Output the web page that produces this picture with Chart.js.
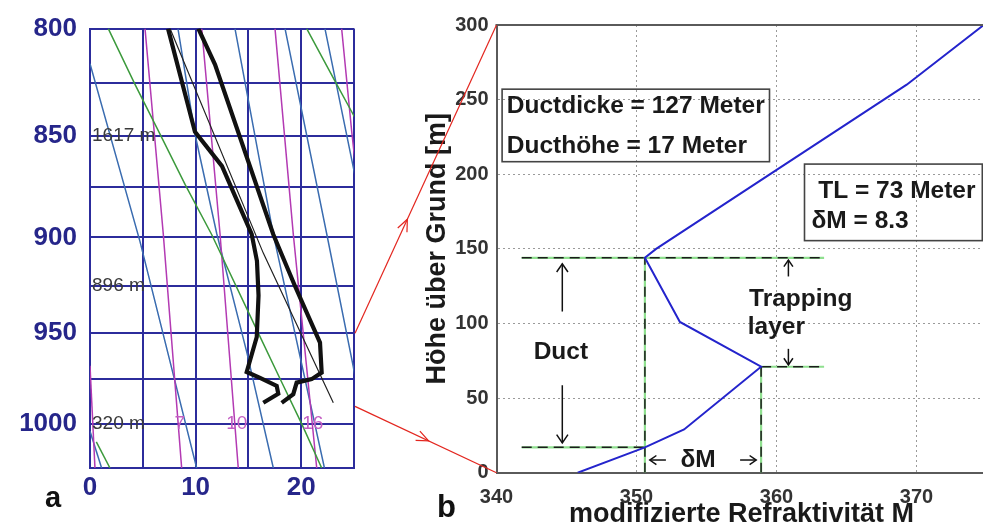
<!DOCTYPE html>
<html>
<head>
<meta charset="utf-8">
<script src="https://cdn.jsdelivr.net/npm/chart.js@4.4.1/dist/chart.umd.min.js"></script>
<style>
  html, body { margin: 0; padding: 0; background: #fff; overflow: hidden; width: 983px; height: 531px; }
  #wrap { position: relative; width: 983px; height: 531px; overflow: hidden; }
  #skew { position: absolute; left: 0; top: 0; }
  #mprof { position: absolute; left: 400px; top: 0; }
  #links { position: absolute; left: 0; top: 0; pointer-events: none; }
  .tag { position: absolute; font-family: "Liberation Sans", Arial, sans-serif; font-weight: bold; color: #111; }
</style>
</head>
<body>
<div id="wrap">
  <canvas id="skew" width="370" height="531"></canvas>
  <canvas id="mprof" width="600" height="531"></canvas>
  <canvas id="links" width="983" height="531"></canvas>
  <div class="tag" style="left:45px; top:483px; font-size:29px; line-height:29px;">a</div>
  <div class="tag" style="left:437px; top:491px; font-size:31px; line-height:31px;">b</div>
</div>
<script>
// ---------- Panel a: sounding diagram, temperature (°C) against pressure (hPa) ----------
const tempTicks = [0, 5, 10, 15, 20, 25];
const tempLabels = [0, 10, 20];
const pressureTicks = [800, 825, 850, 875, 900, 925, 950, 975, 1000, 1025];
const pressureLabels = [800, 850, 900, 950, 1000];

// [temperature, pressure] pairs
const dryAdiabats = [
  [[0, 816], [4.73, 902], [10.1, 1025]],
  [[8.33, 800], [9.94, 849], [12.0, 898], [14.84, 960], [17.36, 1025]],
  [[13.73, 800], [17.36, 898.5], [22.2, 1025]],
  [[18.47, 800], [22.41, 898], [24.93, 968], [25.3, 980]],
  [[22.25, 800], [24.93, 865], [25.3, 874]],
  [[0, 1004], [1.1, 1025]]
];
const moistAdiabats = [
  [[1.73, 800], [4.26, 825.6], [6.63, 849.1], [9.0, 873.5], [11.52, 898.5], [16.2, 953], [17.94, 974], [20.05, 999.8], [21.94, 1025]],
  [[20.52, 800], [23.2, 824.1], [24.91, 839.6], [25.3, 843]],
  [[0.6, 1010], [1.89, 1025]]
];
const mixingRatioLines = [
  [[5.21, 800], [6.94, 898.3], [8.68, 1025]],
  [[10.58, 800], [12.31, 898], [14.04, 1025]],
  [[17.52, 800], [19.25, 898.3], [21.47, 1025]],
  [[23.83, 800], [24.78, 847.7], [25.3, 872]],
  [[0, 967.6], [0.47, 1025]]
];
const mixingRatioLabels = ['7', '10', '16'];
const mixingRatioLabelT = [8.5, 13.9, 21.1];
const heightLabels = ['1617 m', '896 m', '320 m'];
const heightLabelP = [850, 925, 1000];

const dewpointProfile = [
  [7.39, 800], [9.94, 848], [12.5, 864.5], [15.31, 898.3], [15.81, 912], [15.96, 930],
  [15.79, 952], [14.84, 971], [16.1, 974.2], [17.68, 978.6], [17.83, 983], [16.41, 988]
];
const temperatureProfile = [
  [10.26, 800], [11.84, 816.4], [17.36, 898.5], [19.41, 925], [21.78, 955], [21.94, 971.3],
  [20.99, 974.9], [19.57, 976.8], [19.25, 983.2], [18.15, 988]
];
const parcelPath = [[7.58, 800], [16.41, 908], [23.04, 988]];

// ---------- Panel b: modified refractivity profile ----------
const heightTicks = [0, 50, 100, 150, 200, 250, 300];
const refractivityTicks = [340, 350, 360, 370];
const profileM = [345.8, 350.6, 353.4, 358.9, 353.1, 350.6, 351.4, 369.3, 374.8];
const profileH = [0, 17, 29, 71, 101, 144, 150, 260, 300];

const ductHeight = 17;        // Ducthöhe [m]
const ductThickness = 127;    // Ductdicke [m]
const trappingThickness = 73; // TL [m]
const deltaM = 8.3;           // δM
const minM = 350.6;

// dashed guides: [M, height] pairs
const guideLines = [
  [[341.8, 144], [363.4, 144]],
  [[341.8, 17], [350.6, 17]],
  [[358.9, 71], [363.4, 71]],
  [[350.6, 0], [350.6, 144]],
  [[358.9, 0], [358.9, 71]]
];

// connectors between the panels: pressure level on the left, height on the right
const linkPressures = [950, 990];
const linkHeights = [300, 0];

// ---------- helpers ----------
const FONT = '"Liberation Sans", Arial, sans-serif';
const toXY = pts => pts.map(([x, y]) => ({ x, y }));
function lineSet(pts, color, width, extra) {
  return Object.assign({
    data: toXY(pts), borderColor: color, borderWidth: width,
    pointRadius: 0, fill: false, tension: 0
  }, extra || {});
}
function vHead(ctx, x, y, ang, len, spread) {
  ctx.beginPath();
  ctx.moveTo(x + len * Math.cos(ang + Math.PI - spread), y + len * Math.sin(ang + Math.PI - spread));
  ctx.lineTo(x, y);
  ctx.lineTo(x + len * Math.cos(ang + Math.PI + spread), y + len * Math.sin(ang + Math.PI + spread));
  ctx.stroke();
}
function arrow(ctx, x1, y1, x2, y2, len) {
  ctx.beginPath(); ctx.moveTo(x1, y1); ctx.lineTo(x2, y2); ctx.stroke();
  vHead(ctx, x2, y2, Math.atan2(y2 - y1, x2 - x1), len, 0.6);
}

const NAVY = '#2c2c9c';

// ---------- panel a ----------
const skewText = {
  id: 'skewText',
  afterDatasetsDraw(chart) {
    const { ctx, scales: { x, y } } = chart;
    ctx.save();
    ctx.font = '19px ' + FONT;
    ctx.fillStyle = '#3a3a3a';
    ctx.textBaseline = 'middle';
    ctx.textAlign = 'left';
    heightLabels.forEach((t, i) => ctx.fillText(t, x.getPixelForValue(0) + 2, y.getPixelForValue(heightLabelP[i])));
    ctx.fillStyle = '#c35ec3';
    ctx.textAlign = 'center';
    mixingRatioLabels.forEach((t, i) => ctx.fillText(t, x.getPixelForValue(mixingRatioLabelT[i]), y.getPixelForValue(1000)));
    ctx.restore();
  }
};

const skewChart = new Chart(document.getElementById('skew'), {
  type: 'line',
  data: {
    datasets: [
      lineSet(dewpointProfile, '#111', 4.2),
      lineSet(temperatureProfile, '#111', 4.2),
      lineSet(parcelPath, '#222', 1.2),
      ...moistAdiabats.map(p => lineSet(p, '#3c9a3c', 1.5)),
      ...mixingRatioLines.map(p => lineSet(p, '#b33ab3', 1.5)),
      ...dryAdiabats.map(p => lineSet(p, '#3a6cb0', 1.5))
    ]
  },
  options: {
    responsive: false, animation: false, devicePixelRatio: 1, events: [],
    layout: { padding: { left: 0, top: 27, right: 16, bottom: 0 } },
    plugins: { legend: { display: false }, tooltip: { enabled: false } },
    scales: {
      x: {
        type: 'linear', min: 0, max: 25,
        afterBuildTicks: s => { s.ticks = tempTicks.map(v => ({ value: v })); },
        afterFit: s => { s.height = 63; },
        grid: { color: NAVY, lineWidth: 2, drawTicks: false },
        border: { display: true, color: NAVY, width: 2 },
        ticks: {
          padding: 4, color: '#26268a', font: { family: FONT, size: 26, weight: 'bold' },
          maxRotation: 0, autoSkip: false,
          callback: v => tempLabels.includes(v) ? String(v) : ''
        }
      },
      y: {
        type: 'logarithmic', reverse: true, min: 800, max: 1025,
        afterBuildTicks: s => { s.ticks = pressureTicks.map(v => ({ value: v })); },
        afterFit: s => { s.width = 90; },
        grid: { color: NAVY, lineWidth: 2, drawTicks: false },
        border: { display: true, color: NAVY, width: 2 },
        ticks: {
          padding: 13, color: '#26268a', font: { family: FONT, size: 26, weight: 'bold' },
          autoSkip: false,
          callback: v => pressureLabels.includes(v) ? String(v) : ''
        }
      }
    }
  },
  plugins: [skewText]
});

// ---------- panel b ----------
const profileNotes = {
  id: 'profileNotes',
  afterDatasetsDraw(chart) {
    const { ctx, chartArea: a, scales: { x, y } } = chart;
    const X = v => x.getPixelForValue(v), Y = v => y.getPixelForValue(v);
    const ductTop = ductHeight + ductThickness;
    const trapBottom = ductTop - trappingThickness;
    const peakM = minM + deltaM;
    ctx.save();
    // upper frame line
    ctx.strokeStyle = '#5a5a5a'; ctx.lineWidth = 2;
    ctx.beginPath(); ctx.moveTo(a.left - 1, a.top); ctx.lineTo(a.right + 10, a.top); ctx.stroke();

    // text boxes
    ctx.strokeStyle = '#444'; ctx.lineWidth = 1.6;
    ctx.strokeRect(X(340.4), Y(257), X(359.5) - X(340.4), Y(208.4) - Y(257));
    ctx.strokeRect(X(362.0), Y(206.8), X(374.7) - X(362.0), Y(155.5) - Y(206.8));

    ctx.fillStyle = '#1a1a1a';
    ctx.font = 'bold 24.5px ' + FONT;
    ctx.textBaseline = 'middle';
    ctx.textAlign = 'left';
    ctx.fillText('Ductdicke = ' + ductThickness + ' Meter', X(340.73), Y(245.8));
    ctx.fillText('Ducthöhe = ' + ductHeight + ' Meter', X(340.73), Y(219));
    ctx.textAlign = 'center';
    ctx.fillText('TL = ' + trappingThickness + ' Meter', X(368.6), Y(188.8));
    ctx.textAlign = 'left';
    ctx.fillText('δM = ' + deltaM, X(362.5), Y(168.7));

    // duct annotation
    ctx.textAlign = 'center';
    ctx.fillText('Duct', X(344.6), Y(81));
    ctx.textAlign = 'left';
    ctx.fillText('Trapping', X(358.04), Y(116));
    ctx.fillText('layer', X(357.95), Y(97.5));
    ctx.textAlign = 'center';
    ctx.fillText('δM', X(354.4), Y(8.5));

    ctx.strokeStyle = '#111'; ctx.lineWidth = 1.5;
    arrow(ctx, X(344.7), Y(ductTop - 36), X(344.7), Y(ductTop - 4), 10);
    arrow(ctx, X(344.7), Y(58.6), X(344.7), Y(ductHeight + 3), 10);
    arrow(ctx, X(360.85), Y(ductTop - 12.5), X(360.85), Y(ductTop - 1.5), 8);
    arrow(ctx, X(360.85), Y(trapBottom + 12), X(360.85), Y(trapBottom + 1.3), 8);
    arrow(ctx, X(352.1), Y(8.5), X(minM + 0.35), Y(8.5), 8);
    arrow(ctx, X(357.4), Y(8.5), X(peakM - 0.35), Y(8.5), 8);
    ctx.restore();
  }
};

const guideBlack = guideLines.map(p => lineSet(p, '#1c1c1c', 1.5, { borderDash: [10, 6] }));
const guideGreen = guideLines.map(p => lineSet(p, '#8fe08f', 2.2));
const edgeless = (edges) => (c) => (c.tick && edges.includes(c.tick.value)) ? 'rgba(0,0,0,0)' : '#9a9a9a';

const profileChart = new Chart(document.getElementById('mprof'), {
  type: 'line',
  data: {
    datasets: [
      lineSet(profileM.map((m, i) => [m, profileH[i]]), '#2424cc', 2),
      ...guideBlack,
      ...guideGreen
    ]
  },
  options: {
    responsive: false, animation: false, devicePixelRatio: 1, events: [],
    layout: { padding: { left: 0, top: 25, right: 13.5, bottom: 0 } },
    plugins: { legend: { display: false }, tooltip: { enabled: false } },
    scales: {
      x: {
        type: 'linear', min: 340, max: 375,
        afterBuildTicks: s => { s.ticks = refractivityTicks.map(v => ({ value: v })); },
        afterFit: s => { s.height = 58.3; },
        grid: { color: edgeless([340]), lineWidth: 1, drawTicks: false },
        border: { display: true, color: '#5a5a5a', width: 2, dash: [2, 3] },
        ticks: {
          padding: 13, color: '#333', font: { family: FONT, size: 20, weight: 'bold' },
          maxRotation: 0, autoSkip: false
        },
        title: {
          display: true, text: 'modifizierte Refraktivität M', color: '#1a1a1a',
          font: { family: FONT, size: 27, weight: 'bold' }, padding: { top: 0, bottom: 0 }
        }
      },
      y: {
        type: 'linear', min: 0, max: 300,
        afterBuildTicks: s => { s.ticks = heightTicks.map(v => ({ value: v })); },
        afterFit: s => { s.width = 96.5; },
        grid: { color: edgeless([0, 300]), lineWidth: 1, drawTicks: false },
        border: { display: true, color: '#5a5a5a', width: 2, dash: [2, 3] },
        ticks: {
          padding: 8, color: '#333', font: { family: FONT, size: 20, weight: 'bold' },
          autoSkip: false
        },
        title: {
          display: true, text: 'Höhe über Grund [m]', color: '#1a1a1a',
          font: { family: FONT, size: 27, weight: 'bold' }, padding: { top: 21.8, bottom: 0 }
        }
      }
    }
  },
  plugins: [profileNotes]
});

// ---------- connectors from panel a to panel b ----------
(function drawLinks() {
  const ctx = document.getElementById('links').getContext('2d');
  const dx = document.getElementById('mprof').offsetLeft;
  const L = skewChart.scales, R = profileChart.scales;
  const arrowAt = [0.37, 0.52];
  ctx.strokeStyle = '#e3261f';
  ctx.lineWidth = 1.2;
  linkPressures.forEach((p, i) => {
    const x1 = L.x.getPixelForValue(25) + 1, y1 = L.y.getPixelForValue(p);
    const x2 = dx + R.x.getPixelForValue(340), y2 = R.y.getPixelForValue(linkHeights[i]);
    ctx.beginPath(); ctx.moveTo(x1, y1); ctx.lineTo(x2, y2); ctx.stroke();
    const t = arrowAt[i];
    vHead(ctx, x1 + t * (x2 - x1), y1 + t * (y2 - y1), Math.atan2(y2 - y1, x2 - x1), 13, 0.4);
  });
})();
</script>
</body>
</html>
